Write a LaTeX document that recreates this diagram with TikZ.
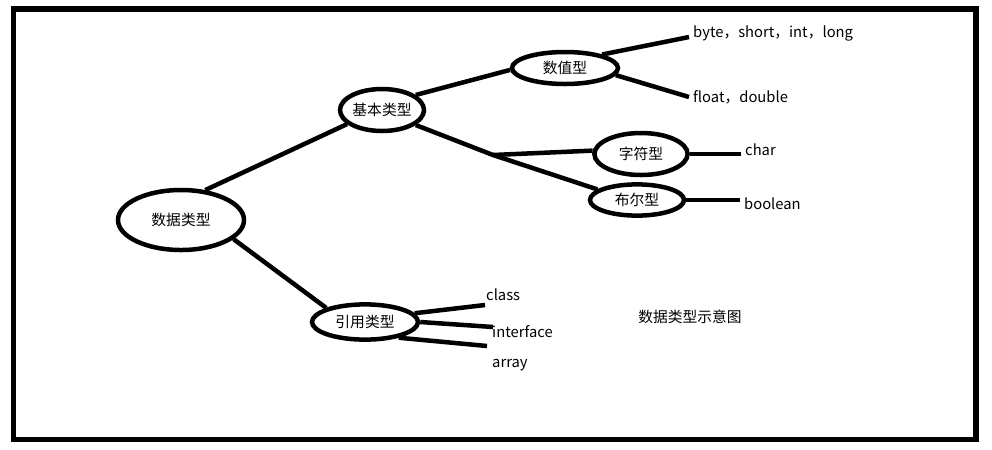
\documentclass[tikz,border=0pt]{standalone}
\usepackage{fontspec}
\setmainfont{Noto Sans CJK SC}
\usetikzlibrary{shapes.geometric}
\tikzset{
  typ/.style={draw, ellipse, line width=3.2pt, inner sep=0pt, font=\fontsize{10.5}{12}\selectfont},
  leaf/.style={anchor=west, inner sep=2.8pt, font=\fontsize{10.5}{12}\selectfont},
  link/.style={line width=3.2pt},
}

\begin{document}
\begin{tikzpicture}[x=0.025cm, y=-0.025cm]
                    \useasboundingbox (0,0) rectangle (992,449);
                    \draw[line width=3.6pt] (13.5,9) rectangle (976,439.5);   %frame
                    % type ellipses
                    \node[typ, minimum width=3.15cm, minimum height=1.5cm] (sjlx) at (181,220) {数据类型};
                    \node[typ, minimum width=2.1cm, minimum height=1.05cm] (jblx) at (382,110) {基本类型};
                    \node[typ, minimum width=2.65cm, minimum height=0.8cm] (szx) at (565,68) {数值型};
                    \node[typ, minimum width=2.33cm, minimum height=1.05cm] (zfx) at (641,154) {字符型};
                    \node[typ, minimum width=2.35cm, minimum height=0.78cm] (bex) at (637,200) {布尔型};
                    \node[typ, minimum width=2.65cm, minimum height=0.88cm] (yylx) at (365,322) {引用类型};
                    % leaves
                    \node[leaf] (bsil) at (689,33) {byte，short，int，long};
                    \node[leaf] (fd) at (689,97) {float，double};
                    \node[leaf] (chr) at (741,150) {char};
                    \node[leaf] (bool) at (740,204) {boolean};
                    \node[leaf] (cls) at (482,295) {class};
                    \node[leaf] (itf) at (488,332) {interface};
                    \node[leaf] (arr) at (488,365) {array};
                    \node[leaf, anchor=center] (title) at (690,317) {数据类型示意图};
                    \coordinate (jn) at (493,155);      %split point
                    \coordinate (clsend) at (485,305);
                    \coordinate (itfend) at (493,327);
                    \coordinate (arrend) at (487,346);
                    % connectors
                    \draw[link] (sjlx.51) -- (jblx.202);
                    \draw[link] (sjlx.-20) -- (yylx.160);
                    \draw[link] (jblx.24) -- (szx.182);
                    \draw[link] (jblx.-24) -- (jn) -- (bex.165);
                    \draw[link] (jn) -- (zfx.176);
                    \draw[link] (szx.20) -- (bsil.base west);
                    \draw[link] (szx.-8) -- (fd.west);
                    \draw[link] (zfx.east) -- (zfx.east -| chr.west);
                    \draw[link] (bex.east) -- (bex.east -| bool.west);
                    \draw[link] (yylx.10) -- (clsend);
                    \draw[link] (yylx.0) -- (itfend);
                    \draw[link] (yylx.-25) -- (arrend);
\end{tikzpicture}
\end{document}
